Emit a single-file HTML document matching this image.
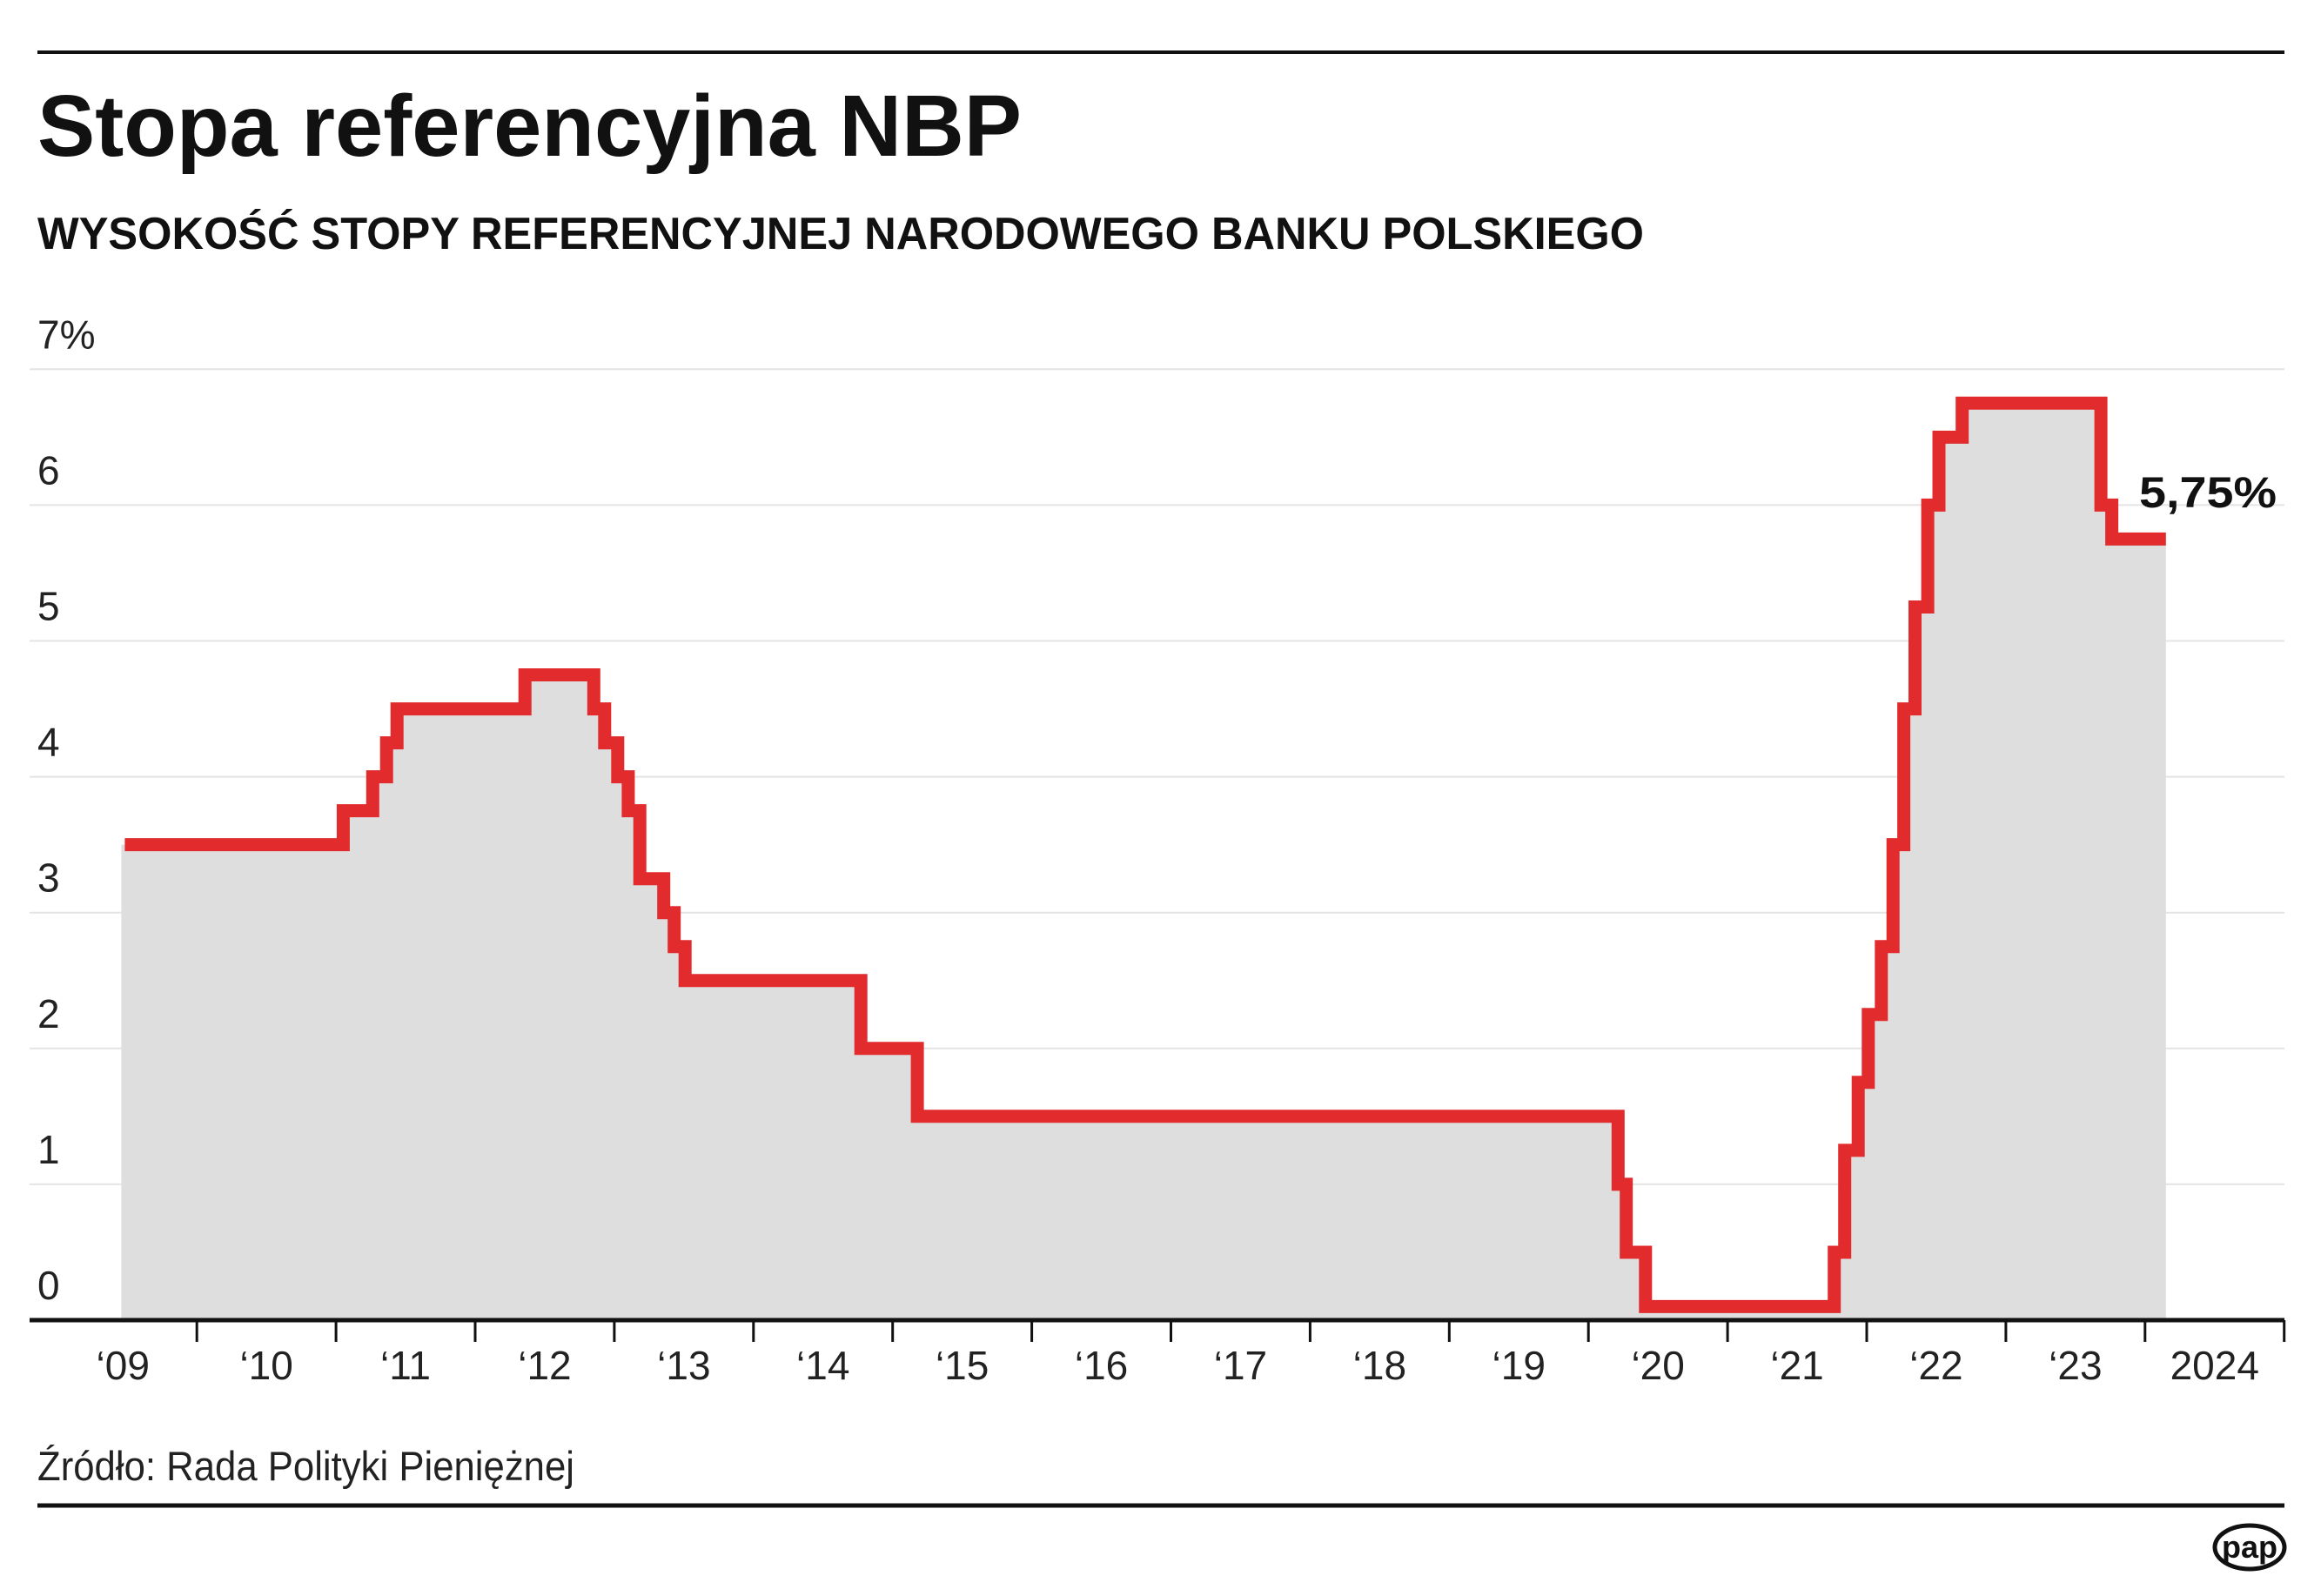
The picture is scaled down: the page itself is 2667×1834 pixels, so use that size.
<!DOCTYPE html>
<html><head><meta charset="utf-8"><style>
html,body{margin:0;padding:0;background:#fff}
svg{display:block}
text{font-family:"Liberation Sans",sans-serif}
</style></head><body>
<svg id="s" width="2667" height="1834" viewBox="0 0 2667 1834" xmlns="http://www.w3.org/2000/svg">
<rect width="2667" height="1834" fill="#fff"/>
<line x1="43" y1="60" x2="2625" y2="60" stroke="#111" stroke-width="4"/>
<text x="43" y="179" font-size="100" font-weight="bold" fill="#111" textLength="1131" lengthAdjust="spacingAndGlyphs">Stopa referencyjna NBP</text>
<text x="43" y="286" font-size="52" font-weight="bold" fill="#111" textLength="1846" lengthAdjust="spacingAndGlyphs">WYSOKOŚĆ STOPY REFERENCYJNEJ NARODOWEGO BANKU POLSKIEGO</text>
<g id="grid" stroke="#e4e4e4" stroke-width="2"></g>
<path id="fill" fill="#dedede"/>
<g id="ylab" font-size="46" fill="#222"></g>
<path id="line" fill="none" stroke="#e12b2d" stroke-width="15" stroke-linejoin="miter" stroke-linecap="butt"/>
<line x1="34" y1="1517" x2="2625" y2="1517" stroke="#111" stroke-width="5"/>
<g id="ticks" stroke="#111" stroke-width="3"></g>
<g id="xlab" font-size="46" fill="#222" text-anchor="middle"></g>
<text x="2458" y="583" font-size="50" font-weight="bold" fill="#111" textLength="158" lengthAdjust="spacingAndGlyphs">5,75%</text>
<text x="43" y="1701" font-size="47" fill="#222" textLength="617" lengthAdjust="spacingAndGlyphs">Źródło: Rada Polityki Pieniężnej</text>
<line x1="43" y1="1730" x2="2625" y2="1730" stroke="#111" stroke-width="5"/>
<g transform="translate(2585,1778)">
<ellipse cx="0" cy="0" rx="40" ry="25" fill="#fff" stroke="#111" stroke-width="5"/>
<text x="0" y="12" font-size="36" font-weight="bold" fill="#111" text-anchor="middle">pap</text>
</g>
</svg>
<script>
var NS="http://www.w3.org/2000/svg";
function X(t){return 226.2+(t-2010)*159.9;}
function Y(v){return 1517-v*156.1;}
function el(p,n,a,txt){var e=document.createElementNS(NS,n);for(var k in a)e.setAttribute(k,a[k]);if(txt!==undefined)e.textContent=txt;document.getElementById(p).appendChild(e);}
for(var i=1;i<=7;i++){el("grid","line",{x1:34,x2:2625,y1:Y(i),y2:Y(i)});}
for(var i=0;i<=7;i++){el("ylab","text",{x:43,y:Y(i)-24},i==7?"7%":""+i);}
for(var y=2010;y<=2025;y++){el("ticks","line",{x1:X(y),x2:X(y),y1:1517,y2:1542});}
var labs=["‘09","‘10","‘11","‘12","‘13","‘14","‘15","‘16","‘17","‘18","‘19","‘20","‘21","‘22","‘23","2024"];
for(var k=0;k<labs.length;k++){el("xlab","text",{x:X(2009.5+k)-(k==0?5:0),y:1585},labs[k]);}
function d(y,m,dd){return y+(m-1)/12+(dd-1)/365;}
var st=[[d(2009,6,25),3.5],[d(2011,1,20),3.75],[d(2011,4,6),4.0],[d(2011,5,12),4.25],[d(2011,6,9),4.5],[d(2012,5,10),4.75],[d(2012,11,8),4.5],[d(2012,12,6),4.25],[d(2013,1,10),4.0],[d(2013,2,7),3.75],[d(2013,3,7),3.25],[d(2013,5,9),3.0],[d(2013,6,6),2.75],[d(2013,7,4),2.5],[d(2014,10,9),2.0],[d(2015,3,5),1.5],[d(2020,3,18),1.0],[d(2020,4,9),0.5],[d(2020,5,29),0.1],[d(2021,10,7),0.5],[d(2021,11,4),1.25],[d(2021,12,9),1.75],[d(2022,1,5),2.25],[d(2022,2,9),2.75],[d(2022,3,9),3.5],[d(2022,4,7),4.5],[d(2022,5,6),5.25],[d(2022,6,9),6.0],[d(2022,7,8),6.5],[d(2022,9,8),6.75],[d(2023,9,7),6.0],[d(2023,10,5),5.75]];
var end=2024.15;
var p="M"+X(st[0][0]).toFixed(1)+","+Y(st[0][1]).toFixed(1);
for(var i=1;i<st.length;i++){var x=X(st[i][0]).toFixed(1);p+=" H"+x+" V"+Y(st[i][1]).toFixed(1);}
p+=" H"+X(end).toFixed(1);
document.getElementById("line").setAttribute("d",p);
var f="M"+(X(st[0][0])-4).toFixed(1)+",1517 V"+Y(st[0][1]).toFixed(1)+p.replace(/^M[^ ]+/,"")+" V1517 Z";
document.getElementById("fill").setAttribute("d",f);
</script>
</body></html>
